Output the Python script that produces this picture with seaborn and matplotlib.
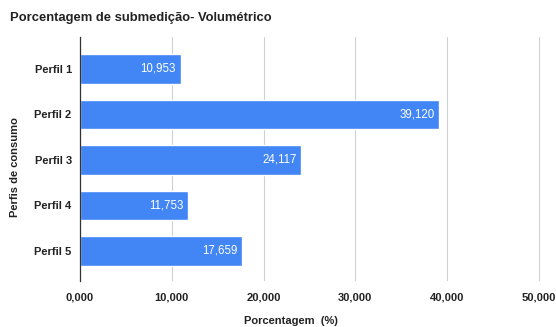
import matplotlib
matplotlib.use("Agg")
import matplotlib.pyplot as plt
import seaborn as sns
import pandas as pd
from matplotlib.ticker import FuncFormatter

categories = ["Perfil 1", "Perfil 2", "Perfil 3", "Perfil 4", "Perfil 5"]
values = [10.953, 39.120, 24.117, 11.753, 17.659]
xticks = [0, 10, 20, 30, 40, 50]

def fmt(v):
    return f"{v:,.3f}".replace(",", "X").replace(".", ",").replace("X", ".")

df = pd.DataFrame({"perfil": categories, "valor": values})

sns.set_theme(style="white")
plt.rcParams["font.family"] = ["Liberation Sans", "DejaVu Sans"]

fig = plt.figure(figsize=(5.56, 3.27), dpi=100)
ax = fig.add_axes([80/556, 1-281/327, (546-80)/556, (281-37)/327])

sns.barplot(data=df, x="valor", y="perfil", orient="h", color="#4285F4",
            saturation=1, width=0.65, ax=ax)

ax.set_xlim(0, 50 * (546-80)/(539-80))
ax.set_ylim(4.66, -0.70)
ax.set_xticks(xticks)
ax.xaxis.set_major_formatter(FuncFormatter(lambda v, p: fmt(v)))
ax.grid(axis="x", color="#d0d0d0", linewidth=0.8)
ax.set_axisbelow(True)
for s in ["top", "right", "bottom"]:
    ax.spines[s].set_visible(False)
ax.spines["left"].set_color("#333333")
ax.spines["left"].set_linewidth(0.9)
ax.tick_params(axis="both", length=0, labelsize=8, labelcolor="#222222", pad=6)
for lab in ax.get_xticklabels() + ax.get_yticklabels():
    lab.set_fontweight("bold")
ax.tick_params(axis="x", pad=8)
ax.set_xlabel("")
ax.set_ylabel("")

for i, v in enumerate(values):
    ax.text(v - 0.5, i, fmt(v), color="white", ha="right", va="center", fontsize=8.3)

fig.text(10/556, 1-18/327, "Porcentagem de submedição- Volumétrico", fontsize=9.4,
         fontweight="bold", color="#222222", ha="left", va="center")
fig.text(15/556, 1-167/327, "Perfis de consumo", rotation=90, fontsize=8,
         fontweight="bold", color="#222222", ha="center", va="center")
fig.text(291/556, 1-321/327, "Porcentagem  (%)", fontsize=8,
         fontweight="bold", color="#222222", ha="center", va="center")

fig.savefig("out.png", dpi=100, facecolor="white")
